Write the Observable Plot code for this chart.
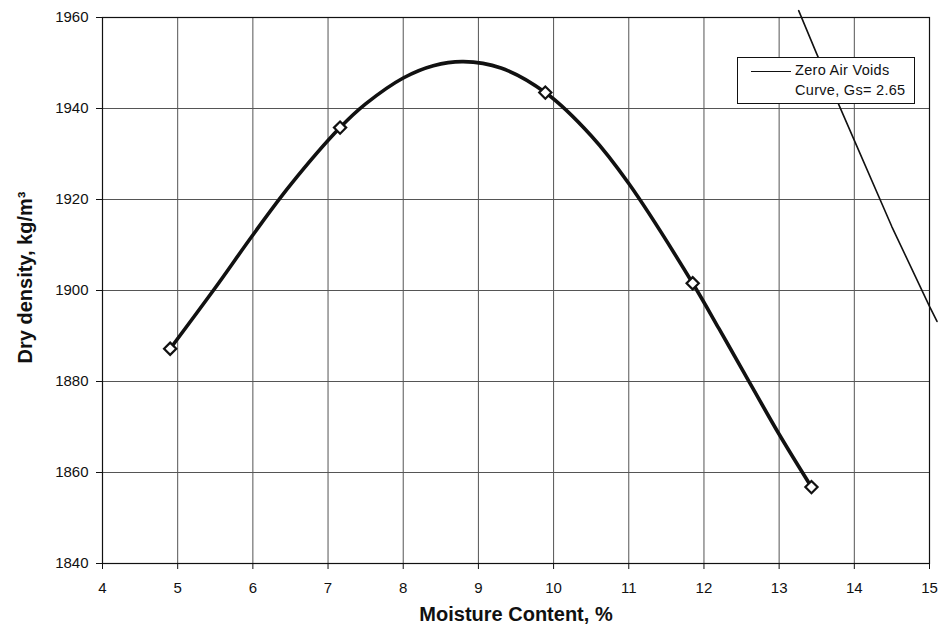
<!DOCTYPE html>
<html>
<head>
<meta charset="utf-8">
<script src="https://cdn.jsdelivr.net/npm/d3@7"></script>
<script src="https://cdn.jsdelivr.net/npm/@observablehq/plot@0.6"></script>
<style>
  body { margin: 0; background: white; }
  #wrap { position: relative; width: 939px; height: 636px; font-family: "Liberation Sans", Arial, sans-serif; }
  #legend { position: absolute; left: 737px; top: 57px; width: 178px; height: 47px; border: 1px solid #111; background: white; box-sizing: border-box; font-size: 14.5px; color: #111; }
  #legend .sample { position: absolute; left: 13px; top: 13px; width: 40px; border-top: 1.4px solid #111; }
  #legend .l1 { position: absolute; left: 57px; top: 4px; white-space: nowrap; letter-spacing: 0.3px; }
  #legend .l2 { position: absolute; left: 57px; top: 24px; white-space: nowrap; letter-spacing: 0.3px; }
</style>
</head>
<body>
<div id="wrap">
  <div id="chart"></div>
  <div id="legend"><div class="sample"></div><div class="l1">Zero Air Voids</div><div class="l2">Curve, Gs= 2.65</div></div>
</div>
<script>
// Compaction test data
const moisture = [4.90, 7.16, 9.89, 11.85, 13.43];
const density = [1887.2, 1935.8, 1943.5, 1901.6, 1856.8];

// Smoothed compaction curve
const curveMoisture = [4.90, 5.5, 6.0, 6.5, 7.16, 7.5, 8.0, 8.4, 8.8, 9.3, 9.89, 10.5, 11.0, 11.85, 12.2, 12.5, 13.0, 13.43];
const curveDensity = [1887.2, 1900.6, 1912.2, 1923.2, 1935.8, 1941.0, 1946.7, 1949.4, 1950.3, 1948.9, 1943.5, 1934.0, 1923.5, 1901.6, 1891.6, 1882.9, 1868.4, 1856.8];

// Zero air voids curve, Gs = 2.65
const zavMoisture = [13.26, 13.5, 14.0, 14.5, 15.0, 15.1];
const zavDensity = [1961.5, 1952.0, 1933.0, 1914.0, 1896.5, 1893.2];

const xTicks = [4, 5, 6, 7, 8, 9, 10, 11, 12, 13, 14, 15];
const yTicks = [1840, 1860, 1880, 1900, 1920, 1940, 1960];

const xTitle = "Moisture Content, %";
const yTitle = "Dry density, kg/m³";

const pts = moisture.map((m, i) => ({x: m, y: density[i]}));
const fit = curveMoisture.map((m, i) => ({x: m, y: curveDensity[i]}));
const zav = zavMoisture.map((m, i) => ({x: m, y: zavDensity[i]}));

const chart = Plot.plot({
  width: 939,
  height: 636,
  marginLeft: 102,
  marginRight: 10,
  marginTop: 17,
  marginBottom: 73,
  x: {domain: [4, 15]},
  y: {domain: [1840, 1960]},
  style: {fontFamily: "'Liberation Sans', Arial, sans-serif", fontSize: "15px", color: "#111", background: "white", overflow: "visible"},
  marks: [
    Plot.gridX(xTicks, {stroke: "#555", strokeOpacity: 1, strokeWidth: 1}),
    Plot.gridY(yTicks, {stroke: "#555", strokeOpacity: 1, strokeWidth: 1}),
    Plot.frame({stroke: "#111", strokeWidth: 1.2}),
    Plot.axisX({ticks: xTicks, tickSize: 6, tickPadding: 13, label: null, tickFormat: d => String(d)}),
    Plot.axisY({ticks: yTicks, tickSize: 6, tickPadding: 8, label: null, tickFormat: d => String(d)}),
    Plot.line(zav, {x: "x", y: "y", stroke: "#111", strokeWidth: 1.6}),
    Plot.line(fit, {x: "x", y: "y", curve: "catmull-rom", stroke: "#111", strokeWidth: 3.6}),
    Plot.dot(pts, {x: "x", y: "y", symbol: "diamond2", r: 5.5, fill: "white", stroke: "#111", strokeWidth: 2.2}),
    Plot.text([xTitle], {frameAnchor: "bottom", dy: 57, text: d => d, fontSize: 20, fontWeight: "bold", fill: "#111"}),
    Plot.text([yTitle], {frameAnchor: "left", textAnchor: "middle", dx: -77, dy: -13, rotate: -90, text: d => d, fontSize: 20, fontWeight: "bold", fill: "#111"})
  ]
});
document.getElementById("chart").appendChild(chart);
</script>
</body>
</html>
